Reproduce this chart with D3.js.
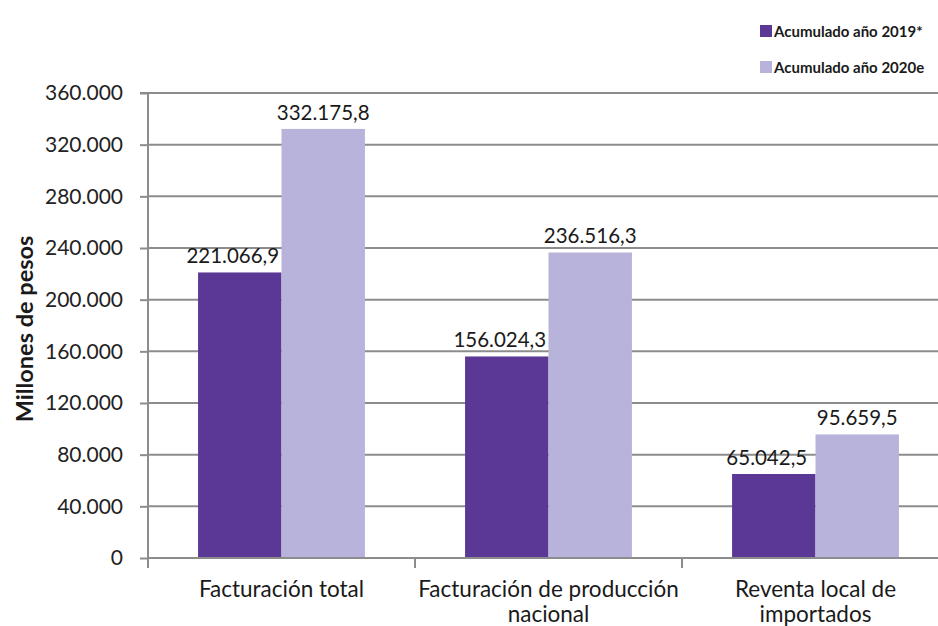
<!DOCTYPE html>
<html>
<head>
<meta charset="utf-8">
<script src="https://cdn.jsdelivr.net/npm/d3@7"></script>
<style>
  body { margin: 0; background: #fff; }
  svg { display: block; font-family: Lato, 'Open Sans', sans-serif; }
</style>
</head>
<body>
<svg width="938" height="626"></svg>
<script>
// data
const categories = [
  ['Facturación total'],
  ['Facturación de producción', 'nacional'],
  ['Reventa local de', 'importados'],
]
const series = ['Acumulado año 2019*', 'Acumulado año 2020e']
const values2019 = [221066.9, 156024.3, 65042.5]
const values2020 = [332175.8, 236516.3, 95659.5]
const yTicks = [0, 40000, 80000, 120000, 160000, 200000, 240000, 280000, 320000, 360000]

const colors = ['#5b3896', '#b8b3da']

const svg = d3.select('svg'),
  width = +svg.attr('width'),
  height = +svg.attr('height')

const margin = { left: 148, right: -11, top: 93, bottom: 68 }
const plotW = width - margin.left - margin.right
const plotH = height - margin.top - margin.bottom

const g = svg.append('g').attr('transform', `translate(${margin.left},${margin.top})`)

// scales
const x = d3.scaleBand().domain(d3.range(categories.length)).range([0, plotW])
const x1 = d3.scaleBand().domain([0, 1]).range([0, x.bandwidth()]).paddingOuter(0.6).paddingInner(0)
const y = d3.scaleLinear().domain([0, 360000]).range([plotH, 0])

const fmt = (v) => d3.format(',')(v).replace(/,/g, '.')
const fmtVal = (v) => fmt(Math.floor(v)) + ',' + Math.round((v % 1) * 10)

// gridlines
g.append('g')
  .selectAll('line')
  .data(yTicks.slice(1))
  .join('line')
  .attr('x1', 0)
  .attr('x2', plotW)
  .attr('y1', (d) => y(d))
  .attr('y2', (d) => y(d))
  .attr('stroke', '#8c8c8c')
  .attr('stroke-width', 2)

// y axis
const yAxis = g.append('g').call(d3.axisLeft(y).tickValues(yTicks).tickSize(8).tickPadding(17).tickFormat(fmt))
yAxis.select('.domain').attr('stroke', '#8c8c8c').attr('stroke-width', 2).attr('d', `M-8,0H0V${plotH + 7}`)
yAxis.selectAll('.tick line').attr('stroke', '#8c8c8c').attr('stroke-width', 2)
yAxis.selectAll('.tick text').attr('font-size', 21).attr('fill', '#222').attr('font-family', 'Lato, sans-serif')

// bars
const groups = g.append('g')
  .selectAll('g')
  .data(categories.map((c, i) => [values2019[i], values2020[i]]))
  .join('g')
  .attr('transform', (d, i) => `translate(${x(i)},0)`)

groups.selectAll('rect')
  .data((d) => d)
  .join('rect')
  .attr('x', (d, j) => x1(j))
  .attr('width', x1.bandwidth())
  .attr('y', (d) => y(d))
  .attr('height', (d) => plotH - y(d))
  .attr('fill', (d, j) => colors[j])

groups.selectAll('text')
  .data((d) => d)
  .join('text')
  .attr('x', (d, j) => x1(j) + x1.bandwidth() / 2 + (j === 0 ? -7 : 0))
  .attr('y', (d) => y(d) - 9)
  .attr('text-anchor', 'middle')
  .attr('font-size', 20.5)
  .attr('fill', '#1a1a1a')
  .text((d) => fmtVal(d))

// x axis
g.append('line')
  .attr('x1', 0).attr('x2', plotW)
  .attr('y1', plotH).attr('y2', plotH)
  .attr('stroke', '#8c8c8c').attr('stroke-width', 2)

g.append('g')
  .selectAll('line')
  .data(d3.range(categories.length))
  .join('line')
  .attr('x1', (i) => x(i)).attr('x2', (i) => x(i))
  .attr('y1', plotH).attr('y2', plotH + 10)
  .attr('stroke', '#8c8c8c').attr('stroke-width', 2)

g.append('g')
  .selectAll('text')
  .data(categories)
  .join('text')
  .attr('text-anchor', 'middle')
  .attr('font-size', 22.5)
  .attr('fill', '#1a1a1a')
  .attr('transform', (d, i) => `translate(${x(i) + x.bandwidth() / 2},${plotH + 39})`)
  .selectAll('tspan')
  .data((d) => d)
  .join('tspan')
  .attr('x', 0)
  .attr('dy', (d, k) => (k === 0 ? 0 : 25))
  .text((d) => d)

// y axis title
svg.append('text')
  .attr('transform', `translate(33,329) rotate(-90)`)
  .attr('text-anchor', 'middle')
  .attr('font-size', 23.5)
  .attr('font-weight', 'bold')
  .attr('fill', '#1a1a1a')
  .text('Millones de pesos')

// legend
const legend = svg.append('g').attr('transform', 'translate(760,25)')
const items = legend.selectAll('g')
  .data(series)
  .join('g')
  .attr('transform', (d, i) => `translate(0,${i * 36})`)
items.append('rect').attr('width', 12).attr('height', 12).attr('fill', (d, i) => colors[i])
items.append('text')
  .attr('x', 14).attr('y', 11.5)
  .attr('font-size', 15)
  .attr('font-weight', 'bold')
  .attr('fill', '#1a1a1a')
  .text((d) => d)
</script>
</body>
</html>
